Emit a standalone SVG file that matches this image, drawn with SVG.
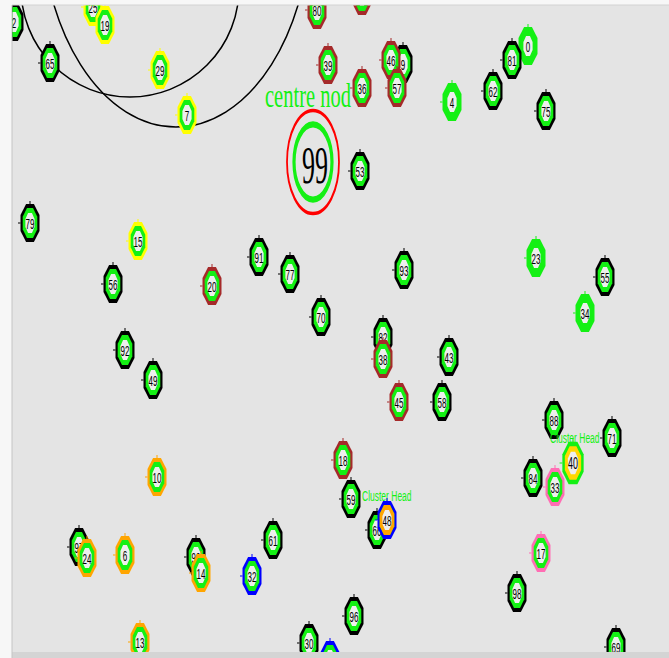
<svg xmlns="http://www.w3.org/2000/svg" xmlns:xlink="http://www.w3.org/1999/xlink" width="669" height="658" viewBox="0 0 669 658">
<style>
.t{font-family:"Liberation Sans",Arial,sans-serif;font-size:8px;text-anchor:middle;fill:#000}
.ch{font-family:"Liberation Sans",Arial,sans-serif;font-size:8.5px;fill:#14f014}
.k{color:#000}.b{color:#a52a2a}.y{color:#ffff00}.o{color:#ffa500}.u{color:#0000ff}.p{color:#ff6eb4}.g{color:#14f014}
.gf{fill:#14f014}.in{fill:#eeeeee}
.arc{fill:none;stroke:#000;stroke-width:1.5}
</style>
<defs>
<clipPath id="cv"><rect x="12.5" y="5.5" width="657" height="646.5"/></clipPath>
<g id="node">
<path d="M0,-19V-22M-9.5,0H-12" stroke="currentColor" stroke-width="1"/>
<polygon fill="currentColor" points="3.9,-19 9.5,-7.9 9.5,7.9 3.9,19 -3.9,19 -9.5,7.9 -9.5,-7.9 -3.9,-19"/>
<polygon class="gf" points="3,-15 7.3,-6.2 7.3,6.2 3,15 -3,15 -7.3,6.2 -7.3,-6.2 -3,-15"/>
<polygon class="in" points="1.9,-10 4.6,-4.1 4.6,4.1 1.9,10 -1.9,10 -4.6,4.1 -4.6,-4.1 -1.9,-10"/>
</g>
</defs>
<rect width="669" height="658" fill="#f7f7f7"/>
<rect x="12" y="5" width="657" height="647" fill="#e4e4e4"/>
<rect x="12" y="652" width="657" height="6" fill="#d4d4d4"/>
<line x1="12" y1="5" x2="669" y2="5" stroke="#d2d2d2" stroke-width="1"/>
<line x1="12" y1="5" x2="12" y2="658" stroke="#c4c4c4" stroke-width="1"/>
<g clip-path="url(#cv)">
<g id="connectors">
<ellipse class="arc" cx="130" cy="-12" rx="109" ry="109"/>
<ellipse class="arc" cx="176" cy="-86" rx="135" ry="213"/>
</g>
<g id="nodes">
<g id="n2" class="k" transform="translate(14,22)"><use href="#node"/><text class="t" transform="scale(1,1.9)" y="2.9">2</text></g>
<g id="n25" class="y" transform="translate(93,7)"><use href="#node"/><text class="t" transform="scale(1,1.9)" y="2.9">25</text></g>
<g id="n19" class="y" transform="translate(105,25)"><use href="#node"/><text class="t" transform="scale(1,1.9)" y="2.9">19</text></g>
<g id="n65" class="k" transform="translate(50,63)"><use href="#node"/><text class="t" transform="scale(1,1.9)" y="2.9">65</text></g>
<g id="n29" class="y" transform="translate(160,70)"><use href="#node"/><text class="t" transform="scale(1,1.9)" y="2.9">29</text></g>
<g id="n7" class="y" transform="translate(187,115)"><use href="#node"/><text class="t" transform="scale(1,1.9)" y="2.9">7</text></g>
<g id="n80" class="b" transform="translate(317,10)"><use href="#node"/><text class="t" transform="scale(1,1.9)" y="2.9">80</text></g>
<g id="n11" class="b" transform="translate(362,-4)"><use href="#node"/></g>
<g id="n39" class="b" transform="translate(328,65)"><use href="#node"/><text class="t" transform="scale(1,1.9)" y="2.9">39</text></g>
<g id="n9" class="k" transform="translate(403,64)"><use href="#node"/><text class="t" transform="scale(1,1.9)" y="2.9">9</text></g>
<g id="n46" class="b" transform="translate(391,60)"><use href="#node"/><text class="t" transform="scale(1,1.9)" y="2.9">46</text></g>
<g id="n57" class="b" transform="translate(397,88)"><use href="#node"/><text class="t" transform="scale(1,1.9)" y="2.9">57</text></g>
<text transform="translate(265,107) scale(1,1.6)" font-family="Liberation Serif,serif" font-size="20.5" fill="#14f014">centre nod</text>
<g id="n36" class="b" transform="translate(362,88)"><use href="#node"/><text class="t" transform="scale(1,1.9)" y="2.9">36</text></g>
<g id="n99">
<g transform="translate(313,162) scale(1,1.98)"><circle r="26" fill="none" stroke="#ff0000" stroke-width="1.8"/><circle r="19" fill="none" stroke="#14f014" stroke-width="3.2"/></g>
<text transform="translate(315,183) scale(1,2)" font-family="Liberation Serif,serif" font-size="26" text-anchor="middle" fill="#000">99</text>
</g>
<g id="n53" class="k" transform="translate(360,171)"><use href="#node"/><text class="t" transform="scale(1,1.9)" y="2.9">53</text></g>
<g id="n4" class="g" transform="translate(452,102)"><use href="#node"/><text class="t" transform="scale(1,1.9)" y="2.9">4</text></g>
<g id="n0" class="g" transform="translate(528,46)"><use href="#node"/><text class="t" transform="scale(1,1.9)" y="2.9">0</text></g>
<g id="n81" class="k" transform="translate(512,60)"><use href="#node"/><text class="t" transform="scale(1,1.9)" y="2.9">81</text></g>
<g id="n62" class="k" transform="translate(493,91)"><use href="#node"/><text class="t" transform="scale(1,1.9)" y="2.9">62</text></g>
<g id="n75" class="k" transform="translate(546,111)"><use href="#node"/><text class="t" transform="scale(1,1.9)" y="2.9">75</text></g>
<g id="n79" class="k" transform="translate(30,223)"><use href="#node"/><text class="t" transform="scale(1,1.9)" y="2.9">79</text></g>
<g id="n15" class="y" transform="translate(138,241)"><use href="#node"/><text class="t" transform="scale(1,1.9)" y="2.9">15</text></g>
<g id="n56" class="k" transform="translate(113,284)"><use href="#node"/><text class="t" transform="scale(1,1.9)" y="2.9">56</text></g>
<g id="n20" class="b" transform="translate(212,286)"><use href="#node"/><text class="t" transform="scale(1,1.9)" y="2.9">20</text></g>
<g id="n92" class="k" transform="translate(125,350)"><use href="#node"/><text class="t" transform="scale(1,1.9)" y="2.9">92</text></g>
<g id="n49" class="k" transform="translate(153,380)"><use href="#node"/><text class="t" transform="scale(1,1.9)" y="2.9">49</text></g>
<g id="n91" class="k" transform="translate(259,257)"><use href="#node"/><text class="t" transform="scale(1,1.9)" y="2.9">91</text></g>
<g id="n77" class="k" transform="translate(290,274)"><use href="#node"/><text class="t" transform="scale(1,1.9)" y="2.9">77</text></g>
<g id="n70" class="k" transform="translate(321,317)"><use href="#node"/><text class="t" transform="scale(1,1.9)" y="2.9">70</text></g>
<g id="n93" class="k" transform="translate(404,270)"><use href="#node"/><text class="t" transform="scale(1,1.9)" y="2.9">93</text></g>
<g id="n82" class="k" transform="translate(383,337)"><use href="#node"/><text class="t" transform="scale(1,1.9)" y="2.9">82</text></g>
<g id="n38" class="b" transform="translate(383,359)"><use href="#node"/><text class="t" transform="scale(1,1.9)" y="2.9">38</text></g>
<g id="n45" class="b" transform="translate(399,402)"><use href="#node"/><text class="t" transform="scale(1,1.9)" y="2.9">45</text></g>
<g id="n43" class="k" transform="translate(449,357)"><use href="#node"/><text class="t" transform="scale(1,1.9)" y="2.9">43</text></g>
<g id="n58" class="k" transform="translate(442,402)"><use href="#node"/><text class="t" transform="scale(1,1.9)" y="2.9">58</text></g>
<g id="n23" class="g" transform="translate(536,258)"><use href="#node"/><text class="t" transform="scale(1,1.9)" y="2.9">23</text></g>
<g id="n55" class="k" transform="translate(605,277)"><use href="#node"/><text class="t" transform="scale(1,1.9)" y="2.9">55</text></g>
<g id="n34" class="g" transform="translate(585,313)"><use href="#node"/><text class="t" transform="scale(1,1.9)" y="2.9">34</text></g>
<g id="n88" class="k" transform="translate(554,420)"><use href="#node"/><text class="t" transform="scale(1,1.9)" y="2.9">88</text></g>
<g id="n71" class="k" transform="translate(612,438)"><use href="#node"/><text class="t" transform="scale(1,1.9)" y="2.9">71</text></g>
<g id="n10" class="o" transform="translate(157,477)"><use href="#node"/><text class="t" transform="scale(1,1.9)" y="2.9">10</text></g>
<g id="n97" class="k" transform="translate(79,547)"><use href="#node"/><text class="t" transform="scale(1,1.9)" y="2.9">97</text></g>
<g id="n24" class="o" transform="translate(87,558)"><use href="#node"/><text class="t" transform="scale(1,1.9)" y="2.9">24</text></g>
<g id="n6" class="o" transform="translate(125,555)"><use href="#node"/><text class="t" transform="scale(1,1.9)" y="2.9">6</text></g>
<g id="n90" class="k" transform="translate(196,557)"><use href="#node"/><text class="t" transform="scale(1,1.9)" y="2.9">90</text></g>
<g id="n14" class="o" transform="translate(201,573)"><use href="#node"/><text class="t" transform="scale(1,1.9)" y="2.9">14</text></g>
<g id="n13" class="o" transform="translate(140,642)"><use href="#node"/><text class="t" transform="scale(1,1.9)" y="2.9">13</text></g>
<g id="n18" class="b" transform="translate(343,460)"><use href="#node"/><text class="t" transform="scale(1,1.9)" y="2.9">18</text></g>
<g id="n59" class="k" transform="translate(351,499)"><use href="#node"/><text class="t" transform="scale(1,1.9)" y="2.9">59</text></g>
<text class="ch" transform="translate(362,501) scale(1,1.8)">Cluster Head</text>
<g id="n66" class="k" transform="translate(377,530)"><use href="#node"/><text class="t" transform="scale(1,1.9)" y="2.9">66</text></g>
<g id="n48" class="u" transform="translate(387,520)"><use href="#node"/><polygon fill="#ffa500" points="3,-15 7.3,-6.2 7.3,6.2 3,15 -3,15 -7.3,6.2 -7.3,-6.2 -3,-15"/><polygon class="in" points="1.9,-10 4.6,-4.1 4.6,4.1 1.9,10 -1.9,10 -4.6,4.1 -4.6,-4.1 -1.9,-10"/><text class="t" transform="scale(1,1.9)" y="2.9">48</text></g>
<g id="n61" class="k" transform="translate(273,540)"><use href="#node"/><text class="t" transform="scale(1,1.9)" y="2.9">61</text></g>
<g id="n32" class="u" transform="translate(252,576)"><use href="#node"/><text class="t" transform="scale(1,1.9)" y="2.9">32</text></g>
<g id="n96" class="k" transform="translate(354,616)"><use href="#node"/><text class="t" transform="scale(1,1.9)" y="2.9">96</text></g>
<g id="n30" class="k" transform="translate(309,643)"><use href="#node"/><text class="t" transform="scale(1,1.9)" y="2.9">30</text></g>
<g id="n27" class="u" transform="translate(330,660)"><use href="#node"/></g>
<text class="ch" transform="translate(550,443) scale(1,1.8)">Cluster Head</text>
<g id="n84" class="k" transform="translate(533,478)"><use href="#node"/><text class="t" transform="scale(1,1.9)" y="2.9">84</text></g>
<g id="n33" class="p" transform="translate(555,487)"><use href="#node"/><text class="t" transform="scale(1,1.9)" y="2.9">33</text></g>
<g id="n40" class="g" transform="translate(573,463) scale(1.12)"><use href="#node"/><polygon fill="#ffd700" points="3,-15 7.3,-6.2 7.3,6.2 3,15 -3,15 -7.3,6.2 -7.3,-6.2 -3,-15"/><polygon class="in" points="1.9,-10 4.6,-4.1 4.6,4.1 1.9,10 -1.9,10 -4.6,4.1 -4.6,-4.1 -1.9,-10"/><text class="t" transform="scale(1,1.9)" y="2.9">40</text></g>
<g id="n17" class="p" transform="translate(541,553)"><use href="#node"/><text class="t" transform="scale(1,1.9)" y="2.9">17</text></g>
<g id="n98" class="k" transform="translate(517,593)"><use href="#node"/><text class="t" transform="scale(1,1.9)" y="2.9">98</text></g>
<g id="n69" class="k" transform="translate(616,647)"><use href="#node"/><text class="t" transform="scale(1,1.9)" y="2.9">69</text></g>
</g>
</g>
</svg>
